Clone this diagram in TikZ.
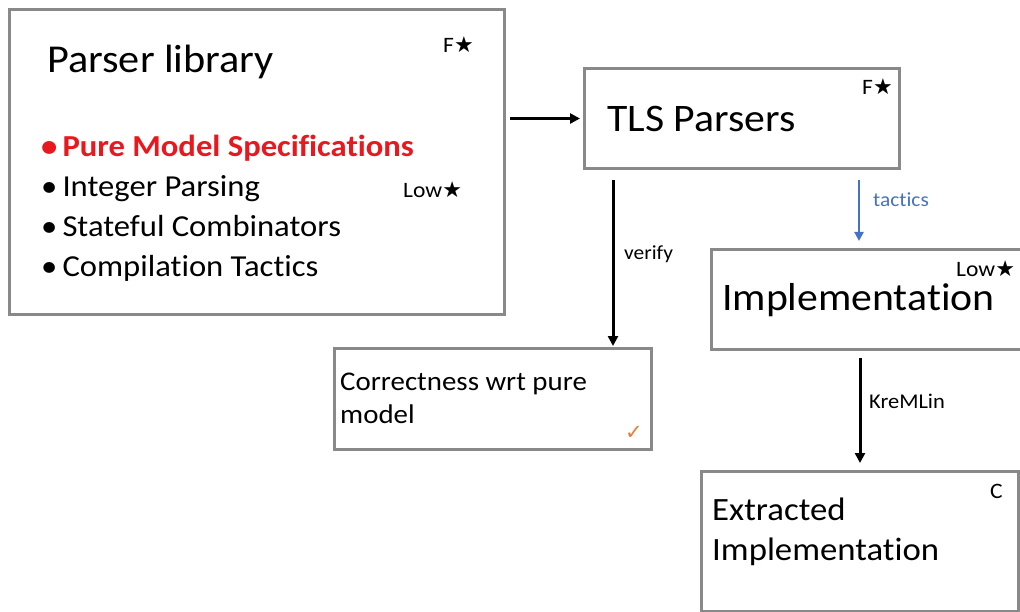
\documentclass[tikz,border=0pt]{standalone}
\usepackage{fontspec}
\setmainfont[FakeStretch=1.07,Ligatures=NoCommon]{Carlito}
\newfontfamily\symfont{DejaVu Sans}
\usetikzlibrary{arrows.meta}
\definecolor{boxgray}{RGB}{137,137,137}
\definecolor{specred}{RGB}{232,24,30}
\definecolor{tacblue}{RGB}{68,114,196}
\definecolor{tickorange}{RGB}{237,125,49}
\newcommand{\fs}[1]{\fontsize{#1}{#1}\selectfont}
\newcommand{\mystar}{{\symfont\char"2605}}
\begin{document}
\begin{tikzpicture}[x=1pt,y=-1pt,
  box/.style={draw=boxgray,line width=3pt,fill=white,rectangle,anchor=north west,inner sep=0pt},
  txt/.style={anchor=base west,inner sep=0pt,text=black},
  tag/.style={anchor=base west,inner sep=0pt,font=\fs{22}},
  arr/.style={line width=3pt,-{Triangle[length=10pt,width=10pt]}},
  lbl/.style={anchor=base west,inner sep=0pt,font=\fs{20}}]
\useasboundingbox (0,0) rectangle (1020,612);

% boxes
\node[box,minimum width=495pt,minimum height=305pt] (lib) at (8,8) {};
\node[box,minimum width=315pt,minimum height=100pt] (tls) at (583,67) {};
\node[box,minimum width=325pt,minimum height=100pt] (impl) at (710,248) {};
\node[box,minimum width=317pt,minimum height=101pt] (corr) at (333,347) {};
\node[box,minimum width=317pt,minimum height=140pt] (ext) at (700,470) {};

% parser library contents
\node[txt,font=\fs{39.5}] (libtitle) at (47,73) {Parser library};
\node[tag] (libF) at (443,53) {F\mystar};
\node[txt,font=\fs{30.5}\bfseries,text=specred] (b1) at (41,157) {•\,Pure Model Specifications};
\node[txt,font=\fs{30.5}] (b2) at (41,197) {•\,Integer Parsing};
\node[txt,font=\fs{30.5}] (b3) at (41,237) {•\,Stateful Combinators};
\node[txt,font=\fs{30.5}] (b4) at (41,277) {•\,Compilation Tactics};
\node[tag] (libLow) at (403,198) {Low\mystar};

% TLS parsers
\node[txt,font=\fs{39}] (tlstitle) at (607,132) {TLS Parsers};
\node[tag] (tlsF) at (862,95) {F\mystar};

% implementation
\node[txt,font=\fs{39}] (impltitle) at (722,311) {Implementation};
\node[tag] (implLow) at (956,277) {Low\mystar};

% correctness
\node[txt,font=\fs{27}] (corr1) at (340,390) {Correctness wrt pure};
\node[txt,font=\fs{27}] (corr2) at (340,423) {model};
\node[anchor=base west,inner sep=0pt,text=tickorange,font=\symfont\fs{21}] (tick) at (625,439) {✓};

% extracted implementation
\node[txt,font=\fs{32.5}] (ext1) at (712,520) {Extracted};
\node[txt,font=\fs{32.5}] (ext2) at (712,560) {Implementation};
\node[tag] (extC) at (990,498) {C};

% connectors
\draw[arr,shorten <=4pt,shorten >=3pt] (lib.east |- tls.west) -- (tls.west);
\draw[arr,shorten >=1pt] ([xshift=30pt,yshift=-10pt]tls.south west) -- ([xshift=30pt]tls.south west |- corr.north);
\node[lbl] (verify) at (624,260) {verify};
\draw[arr,draw=tacblue,line width=2.2pt,-{Triangle[length=9pt,width=9pt]},shorten >=7pt] ([xshift=276pt,yshift=-10pt]tls.south west) -- ([xshift=276pt]tls.south west |- impl.north);
\node[lbl,text=tacblue] (tactics) at (873,207) {tactics};
\draw[arr,shorten >=7pt] ([xshift=150pt,yshift=-7pt]impl.south west) -- ([xshift=150pt]impl.south west |- ext.north);
\node[lbl,font=\fs{21}] (kremlin) at (869,408) {KreMLin};
\end{tikzpicture}
\end{document}
